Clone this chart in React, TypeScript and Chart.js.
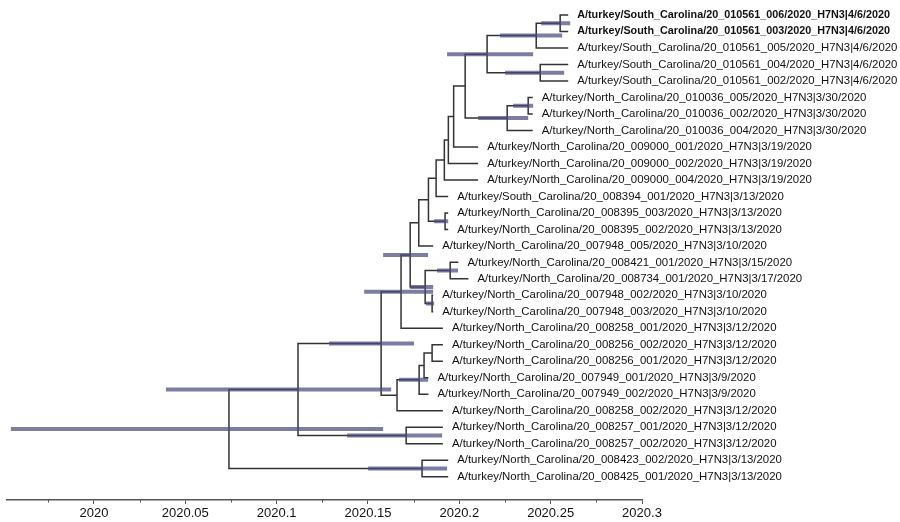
import React, { useEffect, useRef } from "react";
import { Chart, registerables } from "chart.js";

Chart.register(...registerables);

const FONT = "'Liberation Sans', Arial, Helvetica, sans-serif";

// Tip labels (top to bottom)
const leafLabels: string[] = [
  "A/turkey/South_Carolina/20_010561_006/2020_H7N3|4/6/2020",
  "A/turkey/South_Carolina/20_010561_003/2020_H7N3|4/6/2020",
  "A/turkey/South_Carolina/20_010561_005/2020_H7N3|4/6/2020",
  "A/turkey/South_Carolina/20_010561_004/2020_H7N3|4/6/2020",
  "A/turkey/South_Carolina/20_010561_002/2020_H7N3|4/6/2020",
  "A/turkey/North_Carolina/20_010036_005/2020_H7N3|3/30/2020",
  "A/turkey/North_Carolina/20_010036_002/2020_H7N3|3/30/2020",
  "A/turkey/North_Carolina/20_010036_004/2020_H7N3|3/30/2020",
  "A/turkey/North_Carolina/20_009000_001/2020_H7N3|3/19/2020",
  "A/turkey/North_Carolina/20_009000_002/2020_H7N3|3/19/2020",
  "A/turkey/North_Carolina/20_009000_004/2020_H7N3|3/19/2020",
  "A/turkey/South_Carolina/20_008394_001/2020_H7N3|3/13/2020",
  "A/turkey/North_Carolina/20_008395_003/2020_H7N3|3/13/2020",
  "A/turkey/North_Carolina/20_008395_002/2020_H7N3|3/13/2020",
  "A/turkey/North_Carolina/20_007948_005/2020_H7N3|3/10/2020",
  "A/turkey/North_Carolina/20_008421_001/2020_H7N3|3/15/2020",
  "A/turkey/North_Carolina/20_008734_001/2020_H7N3|3/17/2020",
  "A/turkey/North_Carolina/20_007948_002/2020_H7N3|3/10/2020",
  "A/turkey/North_Carolina/20_007948_003/2020_H7N3|3/10/2020",
  "A/turkey/North_Carolina/20_008258_001/2020_H7N3|3/12/2020",
  "A/turkey/North_Carolina/20_008256_002/2020_H7N3|3/12/2020",
  "A/turkey/North_Carolina/20_008256_001/2020_H7N3|3/12/2020",
  "A/turkey/North_Carolina/20_007949_001/2020_H7N3|3/9/2020",
  "A/turkey/North_Carolina/20_007949_002/2020_H7N3|3/9/2020",
  "A/turkey/North_Carolina/20_008258_002/2020_H7N3|3/12/2020",
  "A/turkey/North_Carolina/20_008257_001/2020_H7N3|3/12/2020",
  "A/turkey/North_Carolina/20_008257_002/2020_H7N3|3/12/2020",
  "A/turkey/North_Carolina/20_008423_002/2020_H7N3|3/13/2020",
  "A/turkey/North_Carolina/20_008425_001/2020_H7N3|3/13/2020",
];

const leafBold: boolean[] = [
  true, true, false, false, false, false, false, false, false, false,
  false, false, false, false, false, false, false, false, false, false,
  false, false, false, false, false, false, false, false, false,
];

// Tip times (decimal year)
const leafDates: number[] = [
  2020.2596, 2020.2596, 2020.2596, 2020.2596, 2020.2596,
  2020.2402, 2020.2402, 2020.2402,
  2020.2103, 2020.2103, 2020.2103,
  2020.1939, 2020.1939, 2020.1939,
  2020.1857,
  2020.1995, 2020.205,
  2020.1857, 2020.1857,
  2020.191, 2020.191, 2020.191,
  2020.1831, 2020.1831,
  2020.191, 2020.191, 2020.191,
  2020.1939, 2020.1939,
];

// Parent internal node of each tip
const leafParent: number[] = [
  14, 14, 13, 15, 15, 17, 17, 16, 10, 9, 8, 7, 18, 18, 5, 20, 20, 21, 21, 3,
  25, 25, 24, 23, 22, 26, 26, 27, 27,
];

// Internal node heights (decimal year) and parents
const nodeX: number[] = [
  2020.0739, // 0 root
  2020.1117, // 1
  2020.1572, // 2
  2020.1681, // 3
  2020.1731, // 4
  2020.1778, // 5
  2020.1831, // 6
  2020.1873, // 7
  2020.1918, // 8
  2020.194, // 9
  2020.1969, // 10
  2020.2032, // 11
  2020.2152, // 12
  2020.2421, // 13
  2020.2552, // 14
  2020.2443, // 15
  2020.2262, // 16
  2020.2377, // 17
  2020.1922, // 18
  2020.1813, // 19
  2020.195, // 20
  2020.1851, // 21
  2020.1659, // 22
  2020.178, // 23
  2020.1807, // 24
  2020.1851, // 25
  2020.1709, // 26
  2020.1796, // 27
];
const nodeParent: number[] = [
  -1, 0, 1, 2, 3, 4, 5, 6, 7, 8, 9, 10, 11, 12, 13, 12, 11, 16, 6, 4, 19, 19,
  2, 22, 23, 24, 1, 0,
];

// 95% HPD intervals of node heights
const hpdNode: number[] = [0, 1, 2, 26, 27, 3, 4, 19, 20, 21, 23, 18, 12, 13, 14, 15, 16, 17];
const hpdLow: number[] = [
  2019.9545, 2020.0394, 2020.1287, 2020.1386, 2020.1501, 2020.1479, 2020.1583,
  2020.1731, 2020.1878, 2020.1818, 2020.167, 2020.1862, 2020.1933, 2020.2223,
  2020.2448, 2020.2251, 2020.2103, 2020.2295,
];
const hpdHigh: number[] = [
  2020.1583, 2020.1627, 2020.1752, 2020.1906, 2020.1933, 2020.1857, 2020.1829,
  2020.1857, 2020.1993, 2020.1862, 2020.1829, 2020.1939, 2020.2404, 2020.2563,
  2020.2607, 2020.2574, 2020.2377, 2020.2404,
];

const majorTicks: number[] = [2020, 2020.05, 2020.1, 2020.15, 2020.2, 2020.25, 2020.3];
const minorTicks: number[] = [2019.975, 2020.025, 2020.075, 2020.125, 2020.175, 2020.225, 2020.275];
const xMin = 2019.9524;
const xMax = 2020.3;

type Kid = { leaf: boolean; idx: number };

function computeLayout() {
  const kids: Kid[][] = nodeX.map(() => []);
  leafParent.forEach((p, i) => kids[p].push({ leaf: true, idx: i }));
  nodeParent.forEach((p, i) => {
    if (p >= 0) kids[p].push({ leaf: false, idx: i });
  });
  const nodeY: number[] = new Array(nodeX.length).fill(NaN);
  const yOf = (k: Kid): number => (k.leaf ? k.idx : calc(k.idx));
  function calc(n: number): number {
    if (!isNaN(nodeY[n])) return nodeY[n];
    const ys = kids[n].map(yOf);
    nodeY[n] = (Math.min(...ys) + Math.max(...ys)) / 2;
    return nodeY[n];
  }
  nodeX.forEach((_, i) => calc(i));
  return nodeY;
}

const GAP = { x: NaN, y: NaN };

export default function App() {
  const ref = useRef<HTMLCanvasElement | null>(null);

  useEffect(() => {
    if (!ref.current) return;
    const nodeY = computeLayout();

    const branches: { x: number; y: number }[] = [];
    nodeParent.forEach((p, n) => {
      if (p < 0) return;
      branches.push({ x: nodeX[p], y: nodeY[p] }, { x: nodeX[p], y: nodeY[n] }, { x: nodeX[n], y: nodeY[n] }, GAP);
    });
    leafParent.forEach((p, i) => {
      branches.push({ x: nodeX[p], y: nodeY[p] }, { x: nodeX[p], y: i }, { x: leafDates[i], y: i }, GAP);
    });

    const bars: { x: number; y: number }[] = [];
    hpdNode.forEach((n, j) => {
      bars.push({ x: hpdLow[j], y: nodeY[n] }, { x: hpdHigh[j], y: nodeY[n] }, GAP);
    });

    const labelPlugin = {
      id: "tipLabels",
      afterDraw(chart: any) {
        const { ctx, scales } = chart;
        const xs = scales.x;
        const ys = scales.y;
        ctx.save();
        ctx.textBaseline = "middle";
        ctx.textAlign = "left";
        ctx.fillStyle = "#111";
        leafLabels.forEach((t, i) => {
          ctx.font = leafBold[i] ? `bold 10.8px ${FONT}` : `11.4px ${FONT}`;
          ctx.fillText(t, xs.getPixelForValue(leafDates[i]) + 9, ys.getPixelForValue(i));
        });
        ctx.strokeStyle = "#555";
        ctx.lineWidth = 1;
        const yb = chart.chartArea.bottom;
        minorTicks.forEach((v) => {
          const px = Math.round(xs.getPixelForValue(v)) + 0.5;
          ctx.beginPath();
          ctx.moveTo(px, yb);
          ctx.lineTo(px, yb + 2.5);
          ctx.stroke();
        });
        ctx.restore();
      },
    };

    const chart = new Chart(ref.current, {
      type: "scatter",
      data: {
        datasets: [
          {
            label: "HPD",
            data: bars,
            showLine: true,
            spanGaps: false,
            borderColor: "rgba(75, 75, 125, 0.72)",
            borderWidth: 4,
            borderCapStyle: "butt",
            pointRadius: 0,
            order: 0,
          } as any,
          {
            label: "branches",
            data: branches,
            showLine: true,
            spanGaps: false,
            borderColor: "#333",
            borderWidth: 1.5,
            borderCapStyle: "butt",
            borderJoinStyle: "miter",
            pointRadius: 0,
            order: 1,
          } as any,
        ],
      },
      options: {
        animation: false,
        responsive: false,
        maintainAspectRatio: false,
        devicePixelRatio: 1,
        layout: { padding: { left: 7, right: 258, top: 0, bottom: 0 } },
        plugins: { legend: { display: false }, tooltip: { enabled: false } },
        scales: {
          x: {
            type: "linear",
            position: "bottom",
            min: xMin,
            max: xMax,
            afterBuildTicks: (s: any) => {
              s.ticks = majorTicks.map((v) => ({ value: v }));
            },
            afterFit: (s: any) => {
              s.height = 22;
            },
            grid: { drawOnChartArea: false, drawTicks: true, tickLength: 4, color: "#555", lineWidth: 1 },
            border: { display: true, color: "#555", width: 1.5 },
            ticks: {
              autoSkip: false,
              maxRotation: 0,
              padding: 2,
              color: "#111",
              font: { size: 13, family: FONT },
              callback: (v: any) => String(Math.round(Number(v) * 1000) / 1000),
            },
          },
          y: { type: "linear", min: -0.91, max: 29.41, reverse: true, display: false },
        },
      } as any,
      plugins: [labelPlugin],
    });
    return () => chart.destroy();
  }, []);

  return (
    <div style={{ position: "fixed", left: 0, top: 0, width: 900, height: 522, background: "#fff" }}>
      <canvas ref={ref} width={900} height={522} style={{ display: "block" }} />
    </div>
  );
}
